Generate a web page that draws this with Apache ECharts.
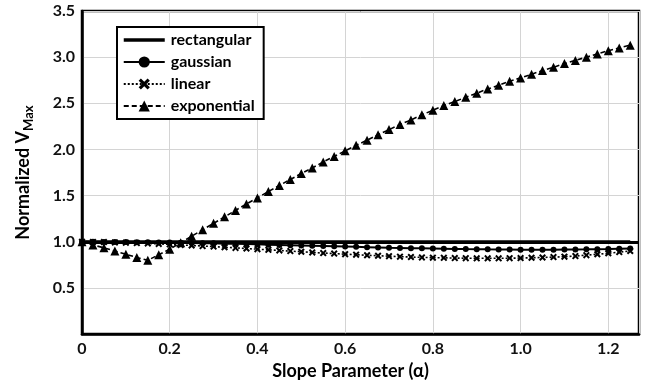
<!DOCTYPE html>
<html>
<head>
<meta charset="utf-8">
<script src="https://cdn.jsdelivr.net/npm/echarts@6/dist/echarts.min.js"></script>
<style>html,body{margin:0;padding:0;background:#fff}#c{width:647px;height:385px}</style>
</head>
<body>
<div id="c"></div>
<script>
var alpha = [0,0.025,0.05,0.075,0.1,0.125,0.15,0.175,0.2,0.225,0.25,0.275,0.3,0.325,0.35,0.375,0.4,0.425,0.45,0.475,0.5,0.525,0.55,0.575,0.6,0.625,0.65,0.675,0.7,0.725,0.75,0.775,0.8,0.825,0.85,0.875,0.9,0.925,0.95,0.975,1.0,1.025,1.05,1.075,1.1,1.125,1.15,1.175,1.2,1.225,1.25];
var rectangular = [1,1,1,1,1,1,1,1,1,1,1,1,1,1,1,1,1,1,1,1,1,1,1,1,1,1,1,1,1,1,1,1,1,1,1,1,1,1,1,1,1,1,1,1,1,1,1,1,1,1,1];
var gaussian = [1.000,1.000,0.999,0.998,0.997,0.996,0.995,0.993,0.991,0.989,0.987,0.985,0.983,0.980,0.978,0.975,0.972,0.969,0.966,0.963,0.960,0.957,0.954,0.951,0.948,0.945,0.942,0.939,0.936,0.934,0.931,0.929,0.927,0.925,0.923,0.921,0.920,0.918,0.917,0.916,0.915,0.915,0.915,0.915,0.916,0.917,0.918,0.920,0.922,0.925,0.928];
var linear = [1.000,0.999,0.997,0.993,0.990,0.986,0.982,0.977,0.972,0.966,0.960,0.954,0.948,0.941,0.934,0.927,0.920,0.913,0.906,0.899,0.892,0.885,0.878,0.872,0.866,0.860,0.854,0.849,0.844,0.839,0.835,0.831,0.828,0.826,0.824,0.822,0.821,0.821,0.821,0.822,0.824,0.827,0.830,0.834,0.839,0.845,0.855,0.865,0.876,0.888,0.900];
var exponential = [1.00,0.965,0.935,0.90,0.865,0.83,0.80,0.86,0.92,0.99,1.06,1.13,1.20,1.27,1.34,1.41,1.475,1.545,1.61,1.675,1.74,1.80,1.865,1.925,1.985,2.045,2.10,2.16,2.215,2.27,2.32,2.375,2.425,2.475,2.52,2.565,2.61,2.655,2.695,2.74,2.775,2.815,2.855,2.89,2.93,2.965,3.00,3.035,3.07,3.10,3.13];
var xTicks = ['0','0.2','0.4','0.6','0.8','1.0','1.2'];
var yTicks = ['0','0.5','1.0','1.5','2.0','2.5','3.0','3.5'];

function pairs(ys){ return alpha.map(function(a,i){ return [a, ys[i]]; }); }
var FONT = 'Lato';
var xSym = 'path://M0,2L2,0L5,3L8,0L10,2L7,5L10,8L8,10L5,7L2,10L0,8L3,5Z';

var chart = echarts.init(document.getElementById('c'), null, {renderer:'canvas'});
chart.setOption({
  animation:false,
  backgroundColor:'#fff',
  textStyle:{fontFamily:FONT},
  grid:{left:82, right:8, top:11, bottom:43, show:true, borderColor:'#000', borderWidth:2.5, backgroundColor:'transparent'},
  legend:{
    orient:'vertical', left:117, top:27,
    itemWidth:41, itemHeight:14, itemGap:6,
    padding:[5,9,5,5],
    borderColor:'#000', borderWidth:2, backgroundColor:'#fff',
    textStyle:{fontFamily:FONT, fontWeight:'bold', fontSize:16, color:'#000', padding:[0,0,0,1]},
    data:[{name:'rectangular', itemStyle:{opacity:0}, lineStyle:{width:3.5}},'gaussian','linear','exponential']
  },
  xAxis:{
    type:'value', min:0, max:1.27, interval:0.2,
    name:'Slope Parameter (α)', nameLocation:'middle', nameGap:26,
    nameTextStyle:{fontFamily:FONT, fontWeight:'bold', fontSize:18, color:'#000', padding:[0,20,0,0]},
    axisLine:{show:true, lineStyle:{color:'#000', width:2.5}},
    axisTick:{show:false},
    splitLine:{show:true, lineStyle:{color:'#d4d4d4', width:1}},
    axisLabel:{fontFamily:FONT, fontWeight:'bold', fontSize:16, color:'#111', margin:7, showMaxLabel:false,
      formatter:function(v){ var i=Math.round(v/0.2); return xTicks[i]!==undefined?xTicks[i]:''; }}
  },
  yAxis:{
    type:'value', min:0, max:3.5, interval:0.5,
    name:'{a|Normalized V}{b|Max}', nameLocation:'middle', nameGap:47,
    nameTextStyle:{rich:{
      a:{fontFamily:FONT, fontWeight:'bold', fontSize:18, color:'#000', lineHeight:24},
      b:{fontFamily:FONT, fontWeight:'bold', fontSize:13, color:'#000', lineHeight:13, verticalAlign:'bottom'}
    }},
    axisLine:{show:true, lineStyle:{color:'#000', width:2.5}},
    axisTick:{show:false},
    splitLine:{show:true, lineStyle:{color:'#d4d4d4', width:1}},
    axisLabel:{fontFamily:FONT, fontWeight:'bold', fontSize:16, color:'#111', margin:7, showMinLabel:false,
      formatter:function(v){ var i=Math.round(v/0.5); return yTicks[i]!==undefined?yTicks[i]:''; }}
  },
  series:[
    {name:'rectangular', type:'line', data:pairs(rectangular), showSymbol:false, symbol:'circle', z:5,
     lineStyle:{color:'#000', width:3}, itemStyle:{color:'#000'},
     markLine:{silent:true, symbol:'none', label:{show:false}, lineStyle:{color:'#000', width:3, type:'solid'}, data:[{yAxis:rectangular[0]}]}},
    {name:'gaussian', type:'line', data:pairs(gaussian), symbol:'circle', symbolSize:6, z:4,
     lineStyle:{color:'#000', width:2}, itemStyle:{color:'#000'}},
    {name:'linear', type:'line', data:pairs(linear), symbol:xSym, symbolSize:7, z:3,
     lineStyle:{color:'#000', width:1.6, type:[2,2]}, itemStyle:{color:'#000'}},
    {name:'exponential', type:'line', data:pairs(exponential), symbol:'triangle', symbolSize:9, z:3,
     lineStyle:{color:'#000', width:1.6, type:[5,3]}, itemStyle:{color:'#000'}}
  ]
});
</script>
</body>
</html>
